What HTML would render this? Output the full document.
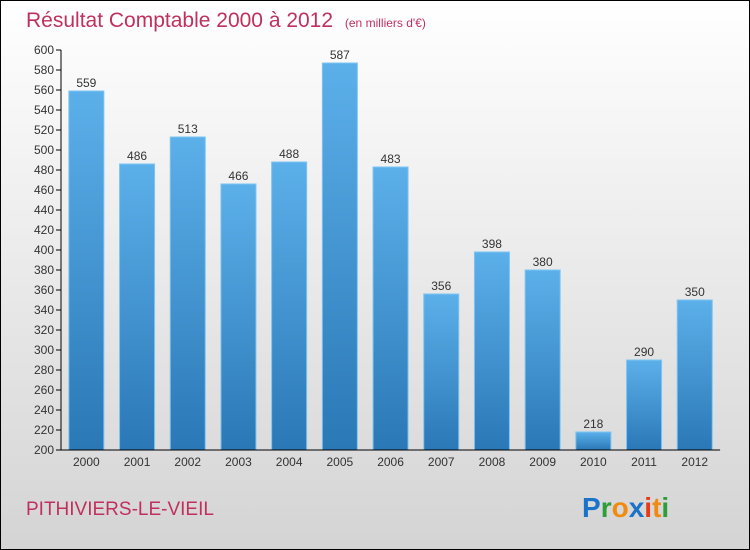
<!DOCTYPE html>
<html><head><meta charset="utf-8"><style>
body{margin:0}
#wrap{width:750px;height:550px;position:relative;box-sizing:border-box;border:1px solid #000;background:linear-gradient(#ffffff,#d4d4d4);font-family:"Liberation Sans",sans-serif;overflow:hidden}
</style></head><body>
<div id="wrap">
<svg id="chart" width="750" height="550" style="position:absolute;left:-1px;top:-1px">
<defs>
<linearGradient id="bg" x1="0" y1="0" x2="0" y2="1"><stop offset="0" stop-color="#5cb0ea"/><stop offset="1" stop-color="#2a78b6"/></linearGradient>
</defs>
<text x="26" y="27" font-size="21" fill="#c0305e">Résultat Comptable 2000 à 2012 <tspan font-size="12" dx="6">(en milliers d'€)</tspan></text>
<text x="26" y="515" font-size="19" fill="#c0305e">PITHIVIERS-LE-VIEIL</text>
<text x="582" y="517" font-size="28" font-weight="bold"><tspan fill="#1a73c8">P</tspan><tspan fill="#2e9e3a">r</tspan><tspan fill="#f08a10">o</tspan><tspan fill="#1a73c8">x</tspan><tspan fill="#e83a1a">i</tspan><tspan fill="#f08a10">t</tspan><tspan fill="#2e9e3a">i</tspan></text>
<g id="g"></g>
</svg>
</div>
<script>
const categories=["2000","2001","2002","2003","2004","2005","2006","2007","2008","2009","2010","2011","2012"];
const values=[559,486,513,466,488,587,483,356,398,380,218,290,350];
const yTicks=[200,220,240,260,280,300,320,340,360,380,400,420,440,460,480,500,520,540,560,580,600];
const X0=61,STEP=50.7,BW=35,YMIN=200,YMAX=600,Y0=450,Y1=50;
const y=v=>Y0-(v-YMIN)/(YMAX-YMIN)*(Y0-Y1);
const cx=i=>X0+STEP*(i+0.5);
const g=document.getElementById('g');const NS='http://www.w3.org/2000/svg';
function mk(t,a,txt){const e=document.createElementNS(NS,t);for(const k in a)e.setAttribute(k,a[k]);if(txt!=null)e.textContent=txt;g.appendChild(e);return e;}
values.forEach((v,i)=>{
const r=mk('rect',{x:cx(i)-BW/2,y:y(v),width:BW,height:Y0-y(v),fill:'url(#bg)',stroke:'#7cc4f2','stroke-width':1});


const t=mk('text',{x:cx(i),y:y(v)-4,'text-anchor':'middle','font-size':12,fill:'#333'},v);


const c=mk('text',{x:cx(i),y:Y0+16,'text-anchor':'middle','font-size':12,fill:'#333'},categories[i]);


});
yTicks.forEach(v=>{
const l=mk('line',{x1:X0-5,x2:X0,y1:y(v),y2:y(v),stroke:'#000'});


const t=mk('text',{x:X0-7,y:y(v)+4,'text-anchor':'end','font-size':12,fill:'#333'},v);


});
const ya=mk('line',{x1:X0,x2:X0,y1:Y1,y2:Y0,stroke:'#000'});


const xa=mk('line',{x1:X0,x2:X0+STEP*categories.length,y1:Y0,y2:Y0,stroke:'#000'});


</script>
</body></html>
